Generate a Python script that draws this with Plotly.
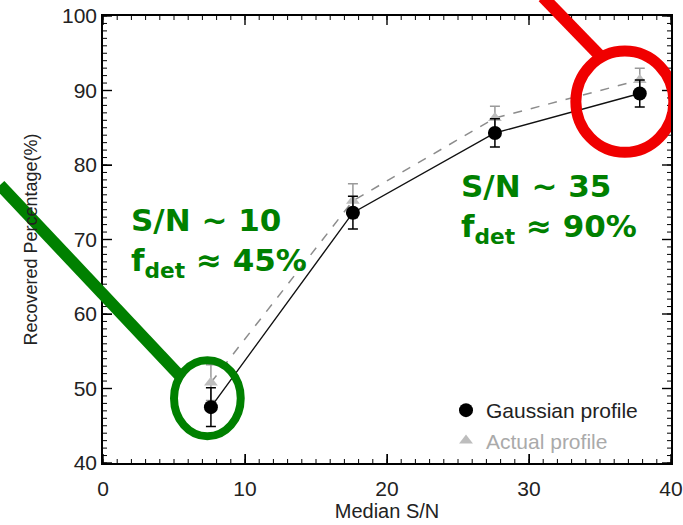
import plotly.graph_objects as go

# ---- data ----
sn_median = [7.6, 17.6, 27.6, 37.8]
gauss_pct = [47.5, 73.6, 84.3, 89.6]
gauss_err = [2.6, 2.2, 1.9, 1.8]
actual_pct = [50.8, 75.2, 86.3, 91.4]
actual_err = [2.4, 2.3, 1.6, 1.6]
x_range = [0, 40]
y_range = [40, 100]
major_step = 10
minor_step = 1

L, R, T, B = 103, 12, 16, 62
W, H = 683, 525
pw, ph = W - L - R, H - T - B

def px2paper(px, py):
    return (px - L) / pw, (H - B - py) / ph

fig = go.Figure()

# ---- inward tick marks on all four sides (built from axis range and steps) ----
def tick_segments(lo, hi, step, olo, ohi, length_units):
    a, b = [], []
    v = lo
    while v <= hi + 1e-9:
        a += [v, v, None, v, v, None]
        b += [olo, olo + length_units, None, ohi, ohi - length_units, None]
        v += step
    return a, b

xspan = x_range[1] - x_range[0]
yspan = y_range[1] - y_range[0]
for step, plen, wdt in [(major_step, 9, 1.4), (minor_step, 4, 1.0)]:
    tx, ty = tick_segments(x_range[0], x_range[1], step, y_range[0], y_range[1],
                           plen / ph * yspan)
    fig.add_trace(go.Scatter(x=tx, y=ty, mode="lines", line=dict(color="black", width=wdt),
                             showlegend=False, hoverinfo="skip"))
    sy, sx = tick_segments(y_range[0], y_range[1], step, x_range[0], x_range[1],
                           plen / pw * xspan)
    fig.add_trace(go.Scatter(x=sx, y=sy, mode="lines", line=dict(color="black", width=wdt),
                             showlegend=False, hoverinfo="skip"))

fig.add_trace(go.Scatter(
    x=sn_median, y=actual_pct, mode="lines+markers",
    line=dict(color="#8c8c8c", width=1.5, dash="dash"),
    marker=dict(symbol="triangle-up", size=12, color="#bdbdbd"),
    error_y=dict(type="data", array=actual_err, color="#9a9a9a", thickness=1.5, width=5),
    showlegend=False))
fig.add_trace(go.Scatter(
    x=sn_median, y=gauss_pct, mode="lines+markers",
    line=dict(color="#111111", width=1.4),
    marker=dict(symbol="circle", size=14, color="black"),
    error_y=dict(type="data", array=gauss_err, color="black", thickness=1.5, width=5),
    showlegend=False))

# legend entries (markers only)
fig.add_trace(go.Scatter(x=[None], y=[None], mode="markers", name="Gaussian profile",
                         marker=dict(symbol="circle", size=14, color="black")))
fig.add_trace(go.Scatter(x=[None], y=[None], mode="markers",
                         name="<span style='color:#aaaaaa'>Actual profile</span>",
                         marker=dict(symbol="triangle-up", size=12, color="#bdbdbd")))

axis_common = dict(
    showline=True, linecolor="black", linewidth=1.5, mirror=True,
    tickmode="linear", tick0=0, dtick=major_step,
    ticks="inside", ticklen=9, tickwidth=1.4, tickcolor="#000000",
    showgrid=False, zeroline=False,
    tickfont=dict(family="Liberation Sans", size=21, color="#222"),
)
fig.update_xaxes(range=x_range, ticklabelstandoff=6,
                 title=dict(text="Median S/N", standoff=2,
                            font=dict(family="Liberation Sans", size=20, color="#222")),
                 **axis_common)
fig.update_yaxes(range=y_range, title=dict(text="Recovered Percentage(%)", standoff=20,
                 font=dict(family="Liberation Sans", size=18, color="#222")), **axis_common)

# annotation shapes
green = "#008000"
red = "#f00000"
gx0, gy0 = px2paper(0, 185)
gx1, gy1 = px2paper(180, 376)
rx0, ry0 = px2paper(543, -3)
rx1, ry1 = px2paper(604, 60)
fig.add_shape(type="line", xref="paper", yref="paper", x0=gx0, y0=gy0, x1=gx1, y1=gy1,
              line=dict(color=green, width=12))
fig.add_shape(type="line", xref="paper", yref="paper", x0=rx0, y0=ry0, x1=rx1, y1=ry1,
              line=dict(color=red, width=12))
fig.add_shape(type="circle", xref="x", yref="y", x0=5.0, x1=9.7, y0=43.6, y1=53.8,
              line=dict(color=green, width=8))
fig.add_shape(type="circle", xref="x", yref="y", x0=33.3, x1=40.2, y0=81.7, y1=95.3,
              line=dict(color=red, width=11))

ax1, ay1 = px2paper(129, 200)
ax2, ay2 = px2paper(459, 166)
for (ax, ay, t) in [(ax1, ay1, "S/N ~ 10<br>f<sub>det</sub> ≈ 45%"),
                    (ax2, ay2, "S/N ~ 35<br>f<sub>det</sub> ≈ 90%")]:
    fig.add_annotation(xref="paper", yref="paper", x=ax, y=ay, xanchor="left", yanchor="top",
                       text="<b>" + t + "</b>", showarrow=False, align="left",
                       font=dict(family="DejaVu Sans", size=31, color=green))

lx, ly = px2paper(446, 390)
fig.update_layout(
    width=W, height=H, margin=dict(l=L, r=R, t=T, b=B, autoexpand=False),
    plot_bgcolor="white", paper_bgcolor="white",
    legend=dict(x=lx, y=ly, xanchor="left", yanchor="top", bgcolor="rgba(0,0,0,0)",
                font=dict(family="Liberation Sans", size=21, color="#222"),
                itemwidth=30, tracegroupgap=0),
)

fig.write_html("out.html")
